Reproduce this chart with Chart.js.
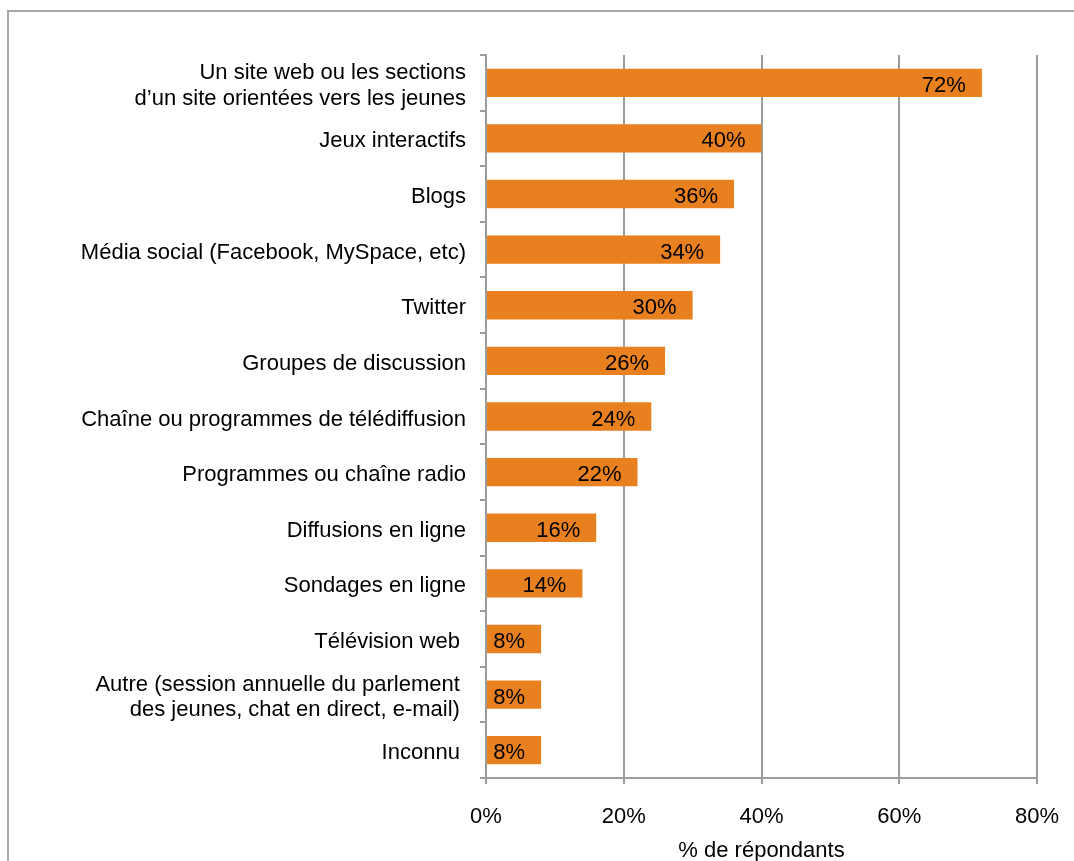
<!DOCTYPE html>
<html lang="fr">
<head>
<meta charset="utf-8">
<title>Outils utilisés pour atteindre les jeunes</title>
<script src="https://cdn.jsdelivr.net/npm/chart.js@4.4.1/dist/chart.umd.min.js"></script>
<style>
  html, body { margin: 0; padding: 0; background: #ffffff; }
  #wrap { position: relative; width: 1074px; height: 861px; overflow: hidden; }
  #frame {
    position: absolute; left: 7px; top: 10px; width: 1100px; height: 900px;
    border-top: 2px solid #a8a8a8; border-left: 2px solid #a8a8a8;
    box-sizing: border-box;
  }
  #chart { position: absolute; left: 0; top: 0; }
</style>
</head>
<body>
<div id="wrap">
  <div id="frame"></div>
  <canvas id="chart" width="1074" height="861"></canvas>
</div>
<script>
// Catégories (les retours à la ligne séparent les lignes d'une étiquette)
const categories = [
  "Un site web ou les sections\nd\u2019un site orientées vers les jeunes",
  "Jeux interactifs",
  "Blogs",
  "Média social (Facebook, MySpace, etc)",
  "Twitter",
  "Groupes de discussion",
  "Chaîne ou programmes de télédiffusion",
  "Programmes ou chaîne radio",
  "Diffusions en ligne",
  "Sondages en ligne",
  "Télévision web ",
  "Autre (session annuelle du parlement \ndes jeunes, chat en direct, e-mail) ",
  "Inconnu "
];

// Part des répondants, en %
const respondents = [72, 40, 36, 34, 30, 26, 24, 22, 16, 14, 8, 8, 8];

// Graduations de l'axe horizontal
const xTicks = [0, 20, 40, 60, 80];
const xTitle = "% de répondants";

const FONT = "'Liberation Sans', Arial, Helvetica, sans-serif";
const GRID = "#9c9c9c";
const BAR = "#E8801F";

// Valeur écrite à l'intérieur de l'extrémité de chaque barre
const valueLabels = {
  id: "valueLabels",
  afterDatasetsDraw(chart) {
    const ctx = chart.ctx;
    const meta = chart.getDatasetMeta(0);
    ctx.save();
    ctx.font = "22px " + FONT;
    ctx.fillStyle = "#000000";
    ctx.textAlign = "right";
    ctx.textBaseline = "middle";
    meta.data.forEach((bar, i) => {
      const v = chart.data.datasets[0].data[i];
      ctx.fillText(v + "%", bar.x - 16, bar.y + 3);
    });
    ctx.restore();
  }
};

new Chart(document.getElementById("chart"), {
  type: "bar",
  data: {
    labels: categories.map(c => c.split("\n")),
    datasets: [{
      data: respondents,
      backgroundColor: BAR,
      borderWidth: 0,
      barPercentage: 0.51,
      categoryPercentage: 1
    }]
  },
  options: {
    indexAxis: "y",
    responsive: false,
    devicePixelRatio: 1,
    animation: false,
    layout: { padding: { top: 55, right: 37, left: 0, bottom: 0 } },
    plugins: {
      legend: { display: false },
      tooltip: { enabled: false }
    },
    scales: {
      x: {
        min: 0,
        max: 80,
        afterBuildTicks(scale) {
          scale.ticks = xTicks.map(v => ({ value: v }));
        },
        afterFit(scale) {
          scale.height = 83;
          // the end labels may overhang the plot; the outer padding handles them
          scale.paddingLeft = 0;
          scale.paddingRight = 0;
        },
        ticks: {
          callback: v => v + "%",
          color: "#000000",
          padding: 20,
          maxRotation: 0,
          font: { family: FONT, size: 22 }
        },
        grid: {
          color: GRID,
          lineWidth: 2,
          tickLength: 6,
          drawTicks: true
        },
        border: { color: GRID, width: 2 },
        title: {
          display: true,
          text: xTitle,
          color: "#000000",
          padding: { top: 0, bottom: 0 },
          font: { family: FONT, size: 22, lineHeight: 0.9 }
        }
      },
      y: {
        afterFit(scale) { scale.width = 486; },
        ticks: {
          color: "#000000",
          padding: 14,
          labelOffset: 3,
          crossAlign: "near",
          font: { family: FONT, size: 22, lineHeight: 1.15 }
        },
        grid: {
          offset: true,
          drawOnChartArea: false,
          color: GRID,
          lineWidth: 2,
          tickLength: 6
        },
        border: { color: GRID, width: 2 }
      }
    }
  },
  plugins: [valueLabels]
});
</script>
</body>
</html>
